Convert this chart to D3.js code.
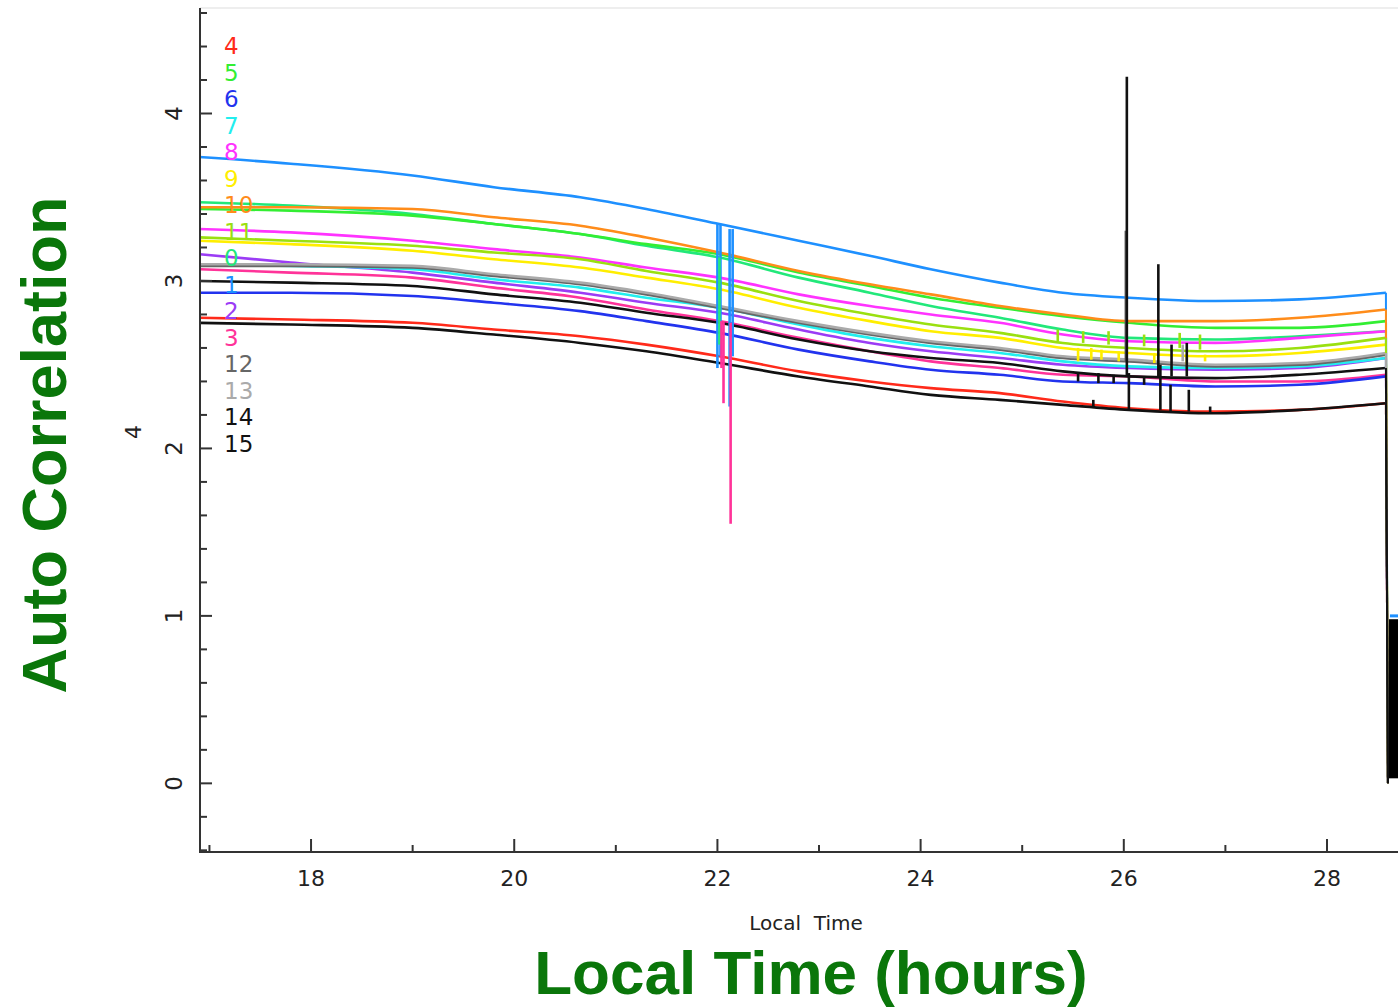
<!DOCTYPE html>
<html>
<head>
<meta charset="utf-8">
<script src="https://cdn.jsdelivr.net/npm/d3@7"></script>
<style>
  body { margin: 0; background: #fff; }
  text { font-family: "DejaVu Sans", "Liberation Sans", sans-serif; }
  text.title { font-family: "Liberation Sans", Arial, sans-serif; font-weight: bold; }
</style>
</head>
<body>
<svg id="vis" width="1398" height="1007"></svg>
<script>
// sample times (hours, local)
var times = [16.9, 17.8, 19.0, 19.8, 20.65, 21.3, 22.02, 22.8, 23.5, 24.1, 24.78, 25.4, 26.05, 26.9, 27.73, 28.58];

// auto correlation per baseline
var s0  = [3.47, 3.45, 3.40, 3.34, 3.28, 3.21, 3.14, 3.02, 2.93, 2.85, 2.78, 2.71, 2.66, 2.65, 2.67, 2.70];
var s1  = [3.74, 3.70, 3.63, 3.56, 3.50, 3.43, 3.34, 3.24, 3.15, 3.07, 2.99, 2.93, 2.90, 2.88, 2.89, 2.93];
var s2  = [3.16, 3.11, 3.05, 2.99, 2.93, 2.87, 2.81, 2.71, 2.63, 2.58, 2.54, 2.50, 2.48, 2.47, 2.48, 2.54];
var s3  = [3.07, 3.05, 3.02, 2.96, 2.90, 2.83, 2.76, 2.66, 2.58, 2.52, 2.48, 2.44, 2.43, 2.40, 2.40, 2.44];
var s4  = [2.78, 2.77, 2.75, 2.71, 2.67, 2.62, 2.55, 2.46, 2.40, 2.36, 2.33, 2.28, 2.24, 2.22, 2.23, 2.27];
var s5  = [3.43, 3.42, 3.39, 3.34, 3.28, 3.22, 3.16, 3.05, 2.97, 2.90, 2.84, 2.79, 2.75, 2.72, 2.72, 2.76];
var s6  = [2.93, 2.93, 2.91, 2.87, 2.82, 2.76, 2.69, 2.59, 2.52, 2.47, 2.44, 2.40, 2.39, 2.37, 2.38, 2.43];
var s7  = [3.10, 3.09, 3.07, 3.01, 2.96, 2.90, 2.84, 2.74, 2.66, 2.61, 2.57, 2.52, 2.49, 2.48, 2.49, 2.54];
var s8  = [3.31, 3.29, 3.24, 3.19, 3.14, 3.08, 3.02, 2.92, 2.85, 2.80, 2.75, 2.68, 2.64, 2.63, 2.66, 2.70];
var s9  = [3.24, 3.22, 3.18, 3.13, 3.08, 3.02, 2.95, 2.84, 2.76, 2.70, 2.66, 2.60, 2.57, 2.55, 2.57, 2.62];
var s10 = [3.44, 3.44, 3.43, 3.38, 3.33, 3.26, 3.17, 3.06, 2.98, 2.92, 2.85, 2.80, 2.76, 2.76, 2.78, 2.83];
var s11 = [3.26, 3.24, 3.21, 3.17, 3.13, 3.06, 2.99, 2.88, 2.80, 2.74, 2.69, 2.63, 2.60, 2.58, 2.60, 2.66];
var s12 = [3.09, 3.09, 3.08, 3.03, 2.98, 2.92, 2.84, 2.75, 2.68, 2.63, 2.59, 2.54, 2.52, 2.49, 2.50, 2.56];
var s13 = [3.10, 3.10, 3.09, 3.04, 2.99, 2.93, 2.85, 2.76, 2.69, 2.64, 2.60, 2.55, 2.53, 2.50, 2.51, 2.57];
var s14 = [3.00, 2.99, 2.97, 2.92, 2.87, 2.81, 2.75, 2.65, 2.58, 2.54, 2.51, 2.46, 2.43, 2.42, 2.44, 2.48];
var s15 = [2.75, 2.74, 2.72, 2.68, 2.63, 2.58, 2.51, 2.43, 2.37, 2.32, 2.29, 2.26, 2.23, 2.21, 2.23, 2.27];

var seriesNames = ["0", "1", "2", "3", "4", "5", "6", "7", "8", "9", "10", "11", "12", "13", "14", "15"];
var seriesColors = ["#22e87a", "#1e90ff", "#9b3cf5", "#ff3399", "#ff2a1a", "#33ee33", "#2233ee", "#22eeee",
                    "#ff33ff", "#ffee00", "#ff8c1a", "#9ae010", "#666666", "#aaaaaa", "#111111", "#111111"];
var legendOrder = ["4", "5", "6", "7", "8", "9", "10", "11", "0", "1", "2", "3", "12", "13", "14", "15"];

// end of the run: every baseline falls to zero
var endTime = 28.6, endValue = 0.0;

// glitches: [series, time, from, to]
var spikes = [
  ["1", 22.00, 3.34, 2.48], ["1", 22.03, 3.34, 2.55], ["0", 22.02, 3.14, 2.62],
  ["1", 22.12, 3.31, 2.25], ["1", 22.15, 3.31, 2.55],
  ["3", 22.04, 2.76, 2.48], ["3", 22.06, 2.76, 2.27], ["3", 22.13, 2.75, 1.55],
  ["11", 25.35, 2.64, 2.71], ["9", 25.55, 2.60, 2.52], ["11", 25.6, 2.63, 2.70], ["9", 25.68, 2.60, 2.53],
  ["9", 25.78, 2.59, 2.53], ["11", 25.85, 2.62, 2.70], ["9", 25.95, 2.58, 2.52], ["11", 26.2, 2.61, 2.68],
  ["9", 26.3, 2.57, 2.51], ["11", 26.55, 2.60, 2.69], ["9", 26.62, 2.56, 2.50], ["11", 26.75, 2.59, 2.68],
  ["9", 26.8, 2.56, 2.52], ["13", 26.58, 2.52, 2.62],
  ["14", 25.55, 2.45, 2.40], ["14", 25.75, 2.45, 2.39], ["14", 25.9, 2.44, 2.39], ["14", 26.2, 2.43, 2.38],
  ["15", 25.7, 2.25, 2.29], ["15", 26.85, 2.21, 2.25],
  ["12", 26.02, 2.52, 3.30], ["14", 26.03, 2.43, 4.22], ["15", 26.05, 2.23, 2.45],
  ["14", 26.34, 2.43, 3.10], ["15", 26.36, 2.23, 2.50],
  ["14", 26.47, 2.43, 2.62], ["14", 26.62, 2.43, 2.63], ["15", 26.46, 2.22, 2.38], ["15", 26.64, 2.22, 2.35]
];

// dense black block right after the drop
var tailBlock = {t0: 28.61, t1: 28.72, lo: 0.03, hi: 0.98};

var xTicks = [18, 20, 22, 24, 26, 28];
var yTicks = [0, 1, 2, 3, 4];

var svg = d3.select("#vis");

var x = d3.scaleLinear().domain([16.907, 28.699]).range([200, 1398]);
var y = d3.scaleLinear().domain([-0.41, 4.63]).range([852, 8]);

var allSeries = [s0, s1, s2, s3, s4, s5, s6, s7, s8, s9, s10, s11, s12, s13, s14, s15];
var data = seriesNames.map(function(name, i) {
  var pts = times.map(function(t, j) { return {t: t, v: allSeries[i][j]}; });
  return {name: name, color: seriesColors[i], pts: pts};
});

var line = d3.line()
    .x(function(d) { return x(d.t); })
    .y(function(d) { return y(d.v); })
    .curve(d3.curveMonotoneX);

var g = svg.append("g");

g.selectAll("path.series")
  .data(data)
  .enter().append("path")
    .attr("class", "series")
    .attr("fill", "none")
    .attr("stroke", function(d) { return d.color; })
    .attr("stroke-width", 2.6)
    .attr("stroke-linejoin", "round")
    .attr("d", function(d) { return line(d.pts); });

// drop to zero at the end
g.selectAll("line.drop")
  .data(data)
  .enter().append("line")
    .attr("class", "drop")
    .attr("x1", function(d) { return x(d.pts[d.pts.length - 1].t); })
    .attr("y1", function(d) { return y(d.pts[d.pts.length - 1].v); })
    .attr("x2", x(endTime))
    .attr("y2", y(endValue))
    .attr("stroke", function(d) { return d.color; })
    .attr("stroke-width", 2);

g.selectAll("line.spike")
  .data(spikes)
  .enter().append("line")
    .attr("class", "spike")
    .attr("x1", function(d) { return x(d[1]); })
    .attr("x2", function(d) { return x(d[1]); })
    .attr("y1", function(d) { return y(d[2]); })
    .attr("y2", function(d) { return y(d[3]); })
    .attr("stroke", function(d) { return seriesColors[seriesNames.indexOf(d[0])]; })
    .attr("stroke-width", 2.6);

g.append("rect")
  .attr("x", x(tailBlock.t0))
  .attr("y", y(tailBlock.hi))
  .attr("width", x(tailBlock.t1) - x(tailBlock.t0))
  .attr("height", y(tailBlock.lo) - y(tailBlock.hi))
  .attr("fill", "#000");
g.append("line")
  .attr("x1", x(tailBlock.t0) + 1).attr("x2", x(tailBlock.t1))
  .attr("y1", y(tailBlock.hi + 0.02)).attr("y2", y(tailBlock.hi + 0.02))
  .attr("stroke", "#1e90ff").attr("stroke-width", 3);

// axes
var axisColor = "#333";
svg.append("line").attr("x1", 200).attr("x2", 1398).attr("y1", 8).attr("y2", 8)
  .attr("stroke", "#ddd").attr("stroke-width", 1);

var yAxis = svg.append("g").attr("transform", "translate(200,0)");
yAxis.append("line").attr("x1", 0).attr("x2", 0).attr("y1", 8).attr("y2", 853)
  .attr("stroke", axisColor).attr("stroke-width", 2);
yAxis.selectAll("line.tick")
  .data(d3.range(-2, 24).map(function(i) { return i / 5; }))
  .enter().append("line")
    .attr("class", "tick")
    .attr("x1", 0)
    .attr("x2", function(d) { return Math.abs(d - Math.round(d)) < 1e-6 ? 12 : 7; })
    .attr("y1", function(d) { return y(d); })
    .attr("y2", function(d) { return y(d); })
    .attr("stroke", axisColor).attr("stroke-width", 2);
yAxis.selectAll("text")
  .data(yTicks)
  .enter().append("text")
    .attr("transform", function(d) { return "translate(-18," + y(d) + ") rotate(-90)"; })
    .attr("text-anchor", "middle")
    .attr("font-size", 23)
    .attr("fill", "#222")
    .text(function(d) { return d; });

var xAxis = svg.append("g").attr("transform", "translate(0,852)");
xAxis.append("line").attr("x1", 199).attr("x2", 1398).attr("y1", 0).attr("y2", 0)
  .attr("stroke", axisColor).attr("stroke-width", 2);
xAxis.selectAll("line.tick")
  .data(d3.range(17, 29))
  .enter().append("line")
    .attr("class", "tick")
    .attr("x1", function(d) { return x(d); })
    .attr("x2", function(d) { return x(d); })
    .attr("y1", 0)
    .attr("y2", function(d) { return d % 2 === 0 ? -13 : -7; })
    .attr("stroke", axisColor).attr("stroke-width", 2);
xAxis.selectAll("text")
  .data(xTicks)
  .enter().append("text")
    .attr("x", function(d) { return x(d); })
    .attr("y", 34)
    .attr("text-anchor", "middle")
    .attr("font-size", 22)
    .attr("fill", "#222")
    .text(function(d) { return d; });

svg.append("text")
  .attr("x", 806).attr("y", 930)
  .attr("text-anchor", "middle")
  .attr("font-size", 20)
  .attr("fill", "#222")
  .attr("xml:space", "preserve")
  .text("Local  Time");

svg.append("text")
  .attr("transform", "translate(141,432) rotate(-90)")
  .attr("text-anchor", "middle")
  .attr("font-size", 22)
  .attr("fill", "#222")
  .text("4");

// legend
svg.selectAll("text.legend")
  .data(legendOrder)
  .enter().append("text")
    .attr("class", "legend")
    .attr("x", 224)
    .attr("y", function(d, i) { return 54 + i * 26.5; })
    .attr("font-size", 23)
    .attr("fill", function(d) { return seriesColors[seriesNames.indexOf(d)]; })
    .text(function(d) { return d; });

// big titles
svg.append("text")
  .attr("class", "title")
  .attr("x", 811).attr("y", 994)
  .attr("text-anchor", "middle")
  .attr("font-size", 62)
  .attr("fill", "#0a760a")
  .text("Local Time (hours)");

svg.append("text")
  .attr("class", "title")
  .attr("transform", "translate(66,445) rotate(-90)")
  .attr("text-anchor", "middle")
  .attr("font-size", 63)
  .attr("fill", "#0a760a")
  .text("Auto Correlation");
</script>
</body>
</html>
